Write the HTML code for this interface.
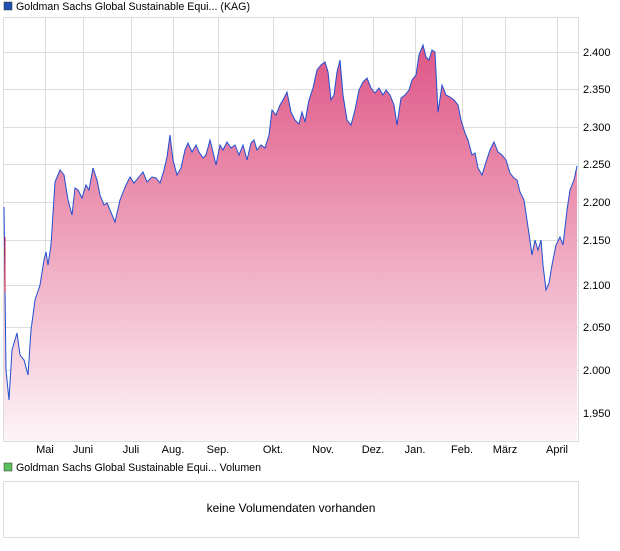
<!DOCTYPE html>
<html><head><meta charset="utf-8"><style>
body{margin:0;background:#fff;width:620px;height:546px;overflow:hidden;font-family:"Liberation Sans",Arial,sans-serif}
</style></head><body>
<svg width="620" height="546" xmlns="http://www.w3.org/2000/svg" font-family="Liberation Sans, Arial, sans-serif" font-size="11">
<defs><linearGradient id="g" x1="0" y1="40" x2="0" y2="441" gradientUnits="userSpaceOnUse">
<stop offset="0" stop-color="#de5485"/><stop offset="0.5" stop-color="#eea3bc"/><stop offset="1" stop-color="#fdf4f7"/></linearGradient></defs>
<rect x="4" y="2" width="8" height="8" fill="#1f4fb0" stroke="#333" stroke-width="0.5"/>
<text x="16" y="10" fill="#000" textLength="234" lengthAdjust="spacingAndGlyphs">Goldman Sachs Global Sustainable Equi... (KAG)</text>
<g stroke="#dcdcdc" stroke-width="1">
<rect x="3.5" y="17.5" width="575" height="424" fill="none"/>
<line x1="45.5" y1="17" x2="45.5" y2="441"/><line x1="83.5" y1="17" x2="83.5" y2="441"/><line x1="131.5" y1="17" x2="131.5" y2="441"/><line x1="173.5" y1="17" x2="173.5" y2="441"/><line x1="218.5" y1="17" x2="218.5" y2="441"/><line x1="273.5" y1="17" x2="273.5" y2="441"/><line x1="323.5" y1="17" x2="323.5" y2="441"/><line x1="373.5" y1="17" x2="373.5" y2="441"/><line x1="415.5" y1="17" x2="415.5" y2="441"/><line x1="462.5" y1="17" x2="462.5" y2="441"/><line x1="505.5" y1="17" x2="505.5" y2="441"/><line x1="557.5" y1="17" x2="557.5" y2="441"/>
<line x1="3" y1="52.5" x2="578" y2="52.5"/><line x1="3" y1="89.5" x2="578" y2="89.5"/><line x1="3" y1="127.5" x2="578" y2="127.5"/><line x1="3" y1="164.5" x2="578" y2="164.5"/><line x1="3" y1="202.5" x2="578" y2="202.5"/><line x1="3" y1="240.5" x2="578" y2="240.5"/><line x1="3" y1="285.5" x2="578" y2="285.5"/><line x1="3" y1="327.5" x2="578" y2="327.5"/><line x1="3" y1="370.5" x2="578" y2="370.5"/><line x1="3" y1="413.5" x2="578" y2="413.5"/>
</g>
<path fill="url(#g)" d="M4,441 L4,207 L6,370 L9,400 L12,350 L17,333 L20,355 L24,360 L28,375 L31,330 L35,300 L40,285 L44,260 L46,252 L48,265 L51,245 L55,182 L60,170 L64,175 L68,200 L72,215 L75,188 L78,190 L82,198 L86,185 L89,190 L93,168 L97,180 L100,195 L104,205 L107,203 L110,210 L115,222 L120,200 L126,185 L130,177 L134,183 L138,178 L143,172 L147,182 L152,177 L156,178 L160,183 L164,170 L167,157 L170,135 L173,160 L177,175 L181,168 L185,150 L188,143 L192,152 L196,145 L199,152 L203,158 L206,155 L210,140 L213,152 L216,165 L220,145 L223,150 L227,142 L231,148 L235,145 L239,155 L243,145 L247,160 L251,143 L254,140 L257,150 L261,145 L265,148 L269,135 L272,110 L276,115 L280,105 L283,100 L287,92 L291,112 L295,120 L299,124 L302,112 L305,122 L309,100 L313,88 L317,70 L321,65 L325,62 L328,72 L331,100 L334,95 L337,72 L340,60 L343,95 L347,120 L351,125 L355,110 L359,90 L363,82 L367,78 L371,88 L375,93 L379,88 L383,95 L386,90 L390,95 L394,105 L397,125 L401,98 L405,95 L409,90 L412,80 L416,75 L419,55 L423,45 L426,57 L429,60 L432,50 L435,52 L438,112 L442,85 L446,95 L450,97 L454,100 L458,105 L461,120 L465,133 L468,140 L472,155 L475,153 L478,168 L482,175 L486,162 L490,150 L494,142 L498,152 L502,155 L506,160 L510,173 L514,178 L517,180 L520,192 L524,200 L528,227 L532,255 L535,240 L538,250 L541,240 L543,265 L546,290 L549,283 L552,265 L556,245 L560,237 L563,245 L567,210 L570,190 L574,180 L577,166 L577,441 Z"/>
<polyline fill="none" stroke="#1f4fd0" stroke-width="1" points="4,207 6,370 9,400 12,350 17,333 20,355 24,360 28,375 31,330 35,300 40,285 44,260 46,252 48,265 51,245 55,182 60,170 64,175 68,200 72,215 75,188 78,190 82,198 86,185 89,190 93,168 97,180 100,195 104,205 107,203 110,210 115,222 120,200 126,185 130,177 134,183 138,178 143,172 147,182 152,177 156,178 160,183 164,170 167,157 170,135 173,160 177,175 181,168 185,150 188,143 192,152 196,145 199,152 203,158 206,155 210,140 213,152 216,165 220,145 223,150 227,142 231,148 235,145 239,155 243,145 247,160 251,143 254,140 257,150 261,145 265,148 269,135 272,110 276,115 280,105 283,100 287,92 291,112 295,120 299,124 302,112 305,122 309,100 313,88 317,70 321,65 325,62 328,72 331,100 334,95 337,72 340,60 343,95 347,120 351,125 355,110 359,90 363,82 367,78 371,88 375,93 379,88 383,95 386,90 390,95 394,105 397,125 401,98 405,95 409,90 412,80 416,75 419,55 423,45 426,57 429,60 432,50 435,52 438,112 442,85 446,95 450,97 454,100 458,105 461,120 465,133 468,140 472,155 475,153 478,168 482,175 486,162 490,150 494,142 498,152 502,155 506,160 510,173 514,178 517,180 520,192 524,200 528,227 532,255 535,240 538,250 541,240 543,265 546,290 549,283 552,265 556,245 560,237 563,245 567,210 570,190 574,180 577,166"/>
<line x1="5" y1="237" x2="5" y2="292" stroke="#d02040" stroke-width="1"/>
<g fill="#000">
<text x="583" y="56">2.400</text><text x="583" y="93">2.350</text><text x="583" y="131">2.300</text><text x="583" y="168">2.250</text><text x="583" y="206">2.200</text><text x="583" y="244">2.150</text><text x="583" y="289">2.100</text><text x="583" y="331">2.050</text><text x="583" y="374">2.000</text><text x="583" y="417">1.950</text>
</g>
<g fill="#000" text-anchor="middle">
<text x="45" y="453">Mai</text><text x="83" y="453">Juni</text><text x="131" y="453">Juli</text><text x="173" y="453">Aug.</text><text x="218" y="453">Sep.</text><text x="273" y="453">Okt.</text><text x="323" y="453">Nov.</text><text x="373" y="453">Dez.</text><text x="415" y="453">Jan.</text><text x="462" y="453">Feb.</text><text x="505" y="453">März</text><text x="557" y="453">April</text>
</g>
<rect x="4" y="463" width="8" height="8" fill="#5cc05c" stroke="#333" stroke-width="0.5"/>
<text x="16" y="471" fill="#000" textLength="245" lengthAdjust="spacingAndGlyphs">Goldman Sachs Global Sustainable Equi... Volumen</text>
<rect x="3.5" y="481.5" width="575" height="56" fill="none" stroke="#dcdcdc"/>
<text x="291" y="512" text-anchor="middle" font-size="12" fill="#000">keine Volumendaten vorhanden</text>
</svg>
</body></html>
